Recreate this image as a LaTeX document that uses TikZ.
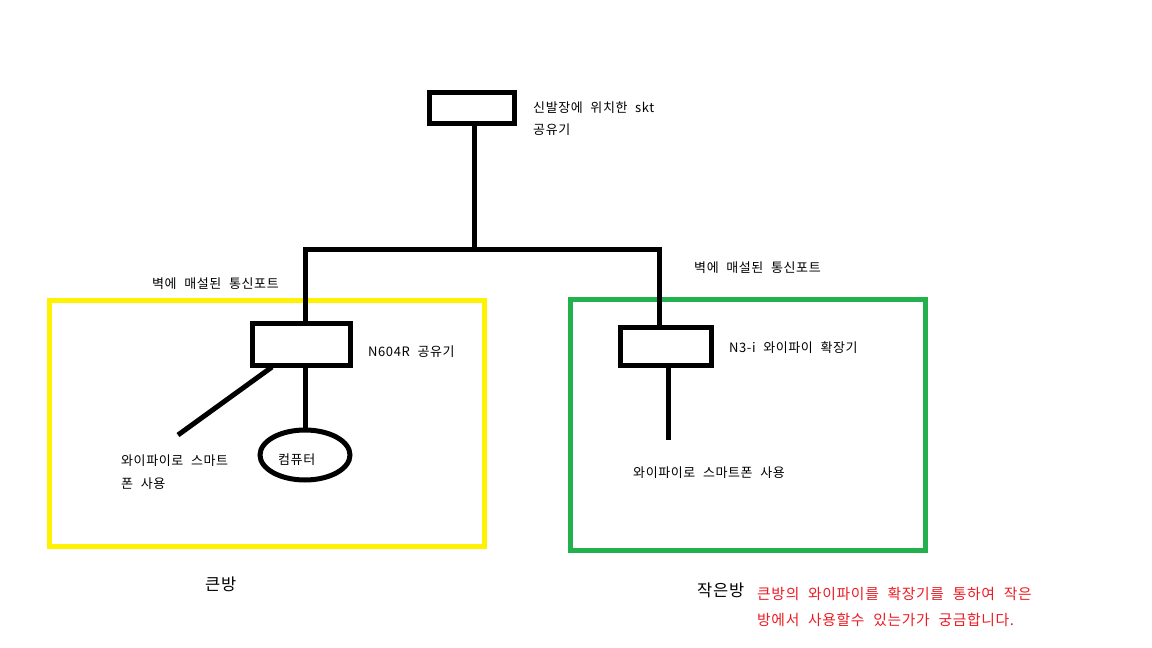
\documentclass[tikz,border=0pt]{standalone}
\usepackage{fontspec}
\setmainfont[WordSpace=2.2,LetterSpace=4.5]{Noto Sans CJK KR}
\usetikzlibrary{shapes.geometric}
\definecolor{boxyellow}{HTML}{FFF200}
\definecolor{boxgreen}{HTML}{22B14C}
\definecolor{qred}{HTML}{ED1C24}
\tikzset{
  wire/.style={line width=5pt},
  devbox/.style={draw, line width=5pt, rectangle, inner sep=0pt, outer sep=0pt},
  lbl/.style={anchor=base west, inner sep=0pt, font=\fontsize{13}{15}\selectfont},
  qlbl/.style={anchor=base west, inner sep=0pt, text=qred, font=\fontsize{14.8}{17}\selectfont},
  roomlbl/.style={anchor=base west, inner sep=0pt, font=\fontsize{16.5}{18}\selectfont},
  room/.style={line width=5pt}
}
\begin{document}
\begin{tikzpicture}[x=1pt,y=-1pt]
\useasboundingbox[fill=white] (0,0) rectangle (1152,648);
% rooms
\draw[room, boxyellow] (49.5,300.5) rectangle (484.5,546.5);
\draw[room, boxgreen] (570.5,299.5) rectangle (925.5,550.5);
% devices
\node[devbox, minimum width=85pt, minimum height=31pt] (skt) at (472,108) {};
\node[devbox, minimum width=98pt, minimum height=42pt] (n604r) at (301,344.5) {};
\node[devbox, minimum width=91pt, minimum height=38pt] (n3i) at (665.5,346) {};
\node[draw, ellipse, line width=5pt, minimum width=90pt, minimum height=50pt, inner sep=0pt, outer sep=0pt] (pc) at (305,455) {};
% junctions
\coordinate (jmid) at (474,249);
\coordinate (jleft) at (305,249);
\coordinate (jright) at (659,249);
\coordinate (phone1) at (178,435);
\coordinate (phone2) at (668,440);
% wires
\draw[wire] (skt.south -| jmid) -- (jmid);
\draw[wire, line join=miter] (jleft |- n604r.north) -- (jleft) -- (jright) -- (jright |- n3i.north);
\draw[wire] (272,367) -- (phone1);
\draw[wire] (n604r.south -| pc.north) -- (pc.north);
\draw[wire] (n3i.south -| phone2) -- (phone2);
% labels
\node[lbl] (t1) at (533,112) {신발장에 위치한 skt};
\node[lbl] (t2) at (533,134) {공유기};
\node[lbl] (t3) at (152,288) {벽에 매설된 통신포트};
\node[lbl] (t4) at (694,272) {벽에 매설된 통신포트};
\node[lbl] (t5) at (368,356) {N604R 공유기};
\node[lbl] (t6) at (729,352) {N3-i 와이파이 확장기};
\node[lbl] (t7) at (121,465) {와이파이로 스마트};
\node[lbl] (t8) at (121,488) {폰 사용};
\node[lbl] (t9) at (278,464) {컴퓨터};
\node[lbl] (t10) at (633,477) {와이파이로 스마트폰 사용};
\node[roomlbl] (r1) at (205,590) {큰방};
\node[roomlbl] (r2) at (697,596) {작은방};
\node[qlbl] (q1) at (757,599) {큰방의 와이파이를 확장기를 통하여 작은};
\node[qlbl] (q2) at (757,625) {방에서 사용할수 있는가가 궁금합니다.};
\end{tikzpicture}
\end{document}
